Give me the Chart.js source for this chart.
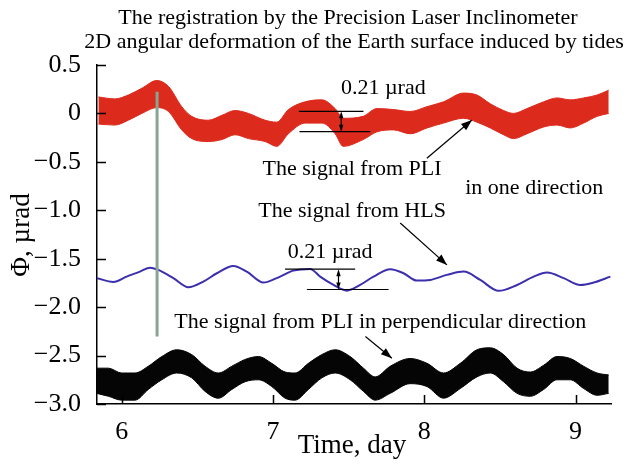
<!DOCTYPE html>
<html>
<head>
<meta charset="utf-8">
<title>PLI tidal deformation</title>
<script src="https://cdn.jsdelivr.net/npm/chart.js@4.4.1/dist/chart.umd.min.js"></script>
<style>
  html, body { margin: 0; padding: 0; background: #fff; }
  canvas { display: block; }
</style>
</head>
<body>
<canvas id="tideChart" width="631" height="466"></canvas>
<script>
// PLI, one direction: upper and lower edge of the noisy band (µrad)
const redTime = [5.846, 5.956, 6.044, 6.133, 6.232, 6.309, 6.397, 6.463, 6.573, 6.662,
                 6.750, 6.838, 6.948, 7.025, 7.102, 7.213, 7.323, 7.411, 7.464, 7.596,
                 7.687, 7.797, 7.907, 8.018, 8.127, 8.260, 8.348, 8.436, 8.524, 8.590,
                 8.679, 8.789, 8.877, 8.965, 9.053, 9.142, 9.219];
const redUpper = [0.17, 0.15, 0.19, 0.26, 0.34, 0.28, 0.07, -0.03, -0.07, -0.02,
                  0.03, 0.00, -0.07, -0.09, 0.04, 0.12, 0.14, 0.05, -0.05, -0.03,
                  0.05, 0.04, 0.02, 0.07, 0.12, 0.21, 0.19, 0.10, 0.03, 0.00,
                  0.05, 0.12, 0.16, 0.14, 0.16, 0.19, 0.24];
const redLower = [-0.11, -0.12, -0.07, 0.00, 0.06, 0.02, -0.17, -0.26, -0.29, -0.27,
                  -0.22, -0.26, -0.29, -0.34, -0.21, -0.10, -0.10, -0.21, -0.34, -0.27,
                  -0.19, -0.17, -0.21, -0.15, -0.10, -0.05, -0.09, -0.15, -0.22, -0.26,
                  -0.21, -0.14, -0.12, -0.15, -0.10, -0.03, 0.00];

// HLS signal
const hlsTime = [5.835, 5.945, 6.033, 6.121, 6.188, 6.242, 6.342, 6.441, 6.540, 6.629,
                 6.738, 6.827, 6.937, 7.025, 7.135, 7.246, 7.312, 7.400, 7.488, 7.576,
                 7.664, 7.775, 7.863, 7.951, 8.039, 8.150, 8.260, 8.370, 8.491, 8.613,
                 8.723, 8.811, 8.921, 9.031, 9.119, 9.230];
const hlsValue = [-1.70, -1.74, -1.685, -1.633, -1.592, -1.616, -1.70, -1.794, -1.736, -1.65,
                  -1.574, -1.633, -1.746, -1.70, -1.623, -1.605, -1.685, -1.771, -1.83, -1.771,
                  -1.685, -1.609, -1.65, -1.726, -1.719, -1.667, -1.633, -1.719, -1.832, -1.771,
                  -1.685, -1.643, -1.70, -1.771, -1.746, -1.685];

// PLI, perpendicular direction: band edges
const blackTime = [5.835, 5.912, 6.000, 6.088, 6.176, 6.265, 6.364, 6.463, 6.551, 6.639,
                   6.728, 6.816, 6.904, 6.992, 7.080, 7.146, 7.234, 7.323, 7.411, 7.510,
                   7.598, 7.676, 7.775, 7.907, 8.018, 8.127, 8.238, 8.348, 8.436, 8.524,
                   8.613, 8.701, 8.789, 8.877, 8.965, 9.053, 9.142, 9.219];
const blackUpper = [-2.63, -2.63, -2.68, -2.68, -2.61, -2.51, -2.44, -2.49, -2.61, -2.68,
                    -2.61, -2.54, -2.51, -2.58, -2.67, -2.68, -2.58, -2.49, -2.44, -2.51,
                    -2.63, -2.72, -2.61, -2.53, -2.58, -2.68, -2.58, -2.44, -2.42, -2.49,
                    -2.63, -2.67, -2.60, -2.51, -2.53, -2.61, -2.68, -2.70];
const blackLower = [-2.89, -2.92, -2.96, -2.96, -2.85, -2.75, -2.68, -2.73, -2.87, -2.94,
                    -2.85, -2.77, -2.75, -2.82, -2.94, -2.96, -2.85, -2.73, -2.68, -2.75,
                    -2.87, -2.96, -2.89, -2.79, -2.82, -2.94, -2.84, -2.72, -2.68, -2.77,
                    -2.89, -2.92, -2.85, -2.75, -2.75, -2.84, -2.91, -2.89];

// vertical marker line
const markerTime = [6.234, 6.234];
const markerValue = [0.225, -2.304];

const xTicks = [6, 7, 8, 9];
const yTicks = [0.5, 0, -0.5, -1.0, -1.5, -2.0, -2.5, -3.0];
const tidalSpan = 0.21;

const serif = '"Liberation Serif", "DejaVu Serif", serif';

function pts(xs, ys) {
    return xs.map((t, i) => ({ x: t, y: ys[i] }));
}

function fmtTick(v) {
    if (v === 0) return '0';
    return (v < 0 ? '\u2212' : '') + Math.abs(v).toFixed(1);
}

// captions, arrows and span brackets, all in data units
const captions = [
    { text: '0.21 \u00b5rad', x: 7.729, y: 0.263 },
    { text: 'The signal from PLI', x: 7.523, y: -0.58 },
    { text: 'in one direction', x: 8.727, y: -0.77 },
    { text: 'The signal from HLS', x: 7.523, y: -1.007 },
    { text: '0.21 \u00b5rad', x: 7.378, y: -1.43 },
    { text: 'The signal from PLI in perpendicular direction', x: 7.709, y: -2.16 }
];
const arrows = [
    { x0: 8.017, y0: -0.463, x1: 8.315, y1: -0.068 },
    { x0: 7.841, y0: -1.131, x1: 8.150, y1: -1.564 },
    { x0: 7.611, y0: -2.304, x1: 7.786, y1: -2.527 }
];
const spans = [
    { top: 0.022, topFrom: 7.171, topTo: 7.598, botFrom: 7.175, botTo: 7.643, at: 7.451 },
    { top: -1.608, topFrom: 7.080, topTo: 7.543, botFrom: 7.224, botTo: 7.764, at: 7.433 }
];

function arrowHead(ctx, x0, y0, x1, y1, len, half) {
    const a = Math.atan2(y1 - y0, x1 - x0);
    ctx.beginPath();
    ctx.moveTo(x1, y1);
    ctx.lineTo(x1 - len * Math.cos(a) + half * Math.sin(a), y1 - len * Math.sin(a) - half * Math.cos(a));
    ctx.lineTo(x1 - len * Math.cos(a) - half * Math.sin(a), y1 - len * Math.sin(a) + half * Math.cos(a));
    ctx.closePath();
    ctx.fill();
}

const overlay = {
    id: 'overlay',
    afterDraw(chart) {
        const { ctx, chartArea } = chart;
        const x = chart.scales.x, y = chart.scales.y;
        ctx.save();
        ctx.strokeStyle = '#000';
        ctx.fillStyle = '#000';

        // inward tick marks
        ctx.lineWidth = 1.5;
        ctx.beginPath();
        xTicks.forEach(v => {
            const px = Math.round(x.getPixelForValue(v)) + 0.5;
            ctx.moveTo(px, chartArea.bottom);
            ctx.lineTo(px, chartArea.bottom - 9);
        });
        yTicks.forEach(v => {
            const py = Math.round(y.getPixelForValue(v)) + 0.5;
            ctx.moveTo(chartArea.left, py);
            ctx.lineTo(chartArea.left + 9, py);
        });
        ctx.stroke();

        // span brackets
        ctx.lineWidth = 1.2;
        spans.forEach(s => {
            const yt = y.getPixelForValue(s.top);
            const yb = y.getPixelForValue(s.top - tidalSpan);
            const xa = x.getPixelForValue(s.at);
            ctx.beginPath();
            ctx.moveTo(x.getPixelForValue(s.topFrom), yt);
            ctx.lineTo(x.getPixelForValue(s.topTo), yt);
            ctx.moveTo(x.getPixelForValue(s.botFrom), yb);
            ctx.lineTo(x.getPixelForValue(s.botTo), yb);
            ctx.moveTo(xa, yt + 4);
            ctx.lineTo(xa, yb - 4);
            ctx.stroke();
            arrowHead(ctx, xa, (yt + yb) / 2, xa, yt, 7, 2.2);
            arrowHead(ctx, xa, (yt + yb) / 2, xa, yb, 7, 2.2);
        });

        // pointer arrows
        ctx.lineWidth = 1.2;
        arrows.forEach(a => {
            const x0 = x.getPixelForValue(a.x0), y0 = y.getPixelForValue(a.y0);
            const x1 = x.getPixelForValue(a.x1), y1 = y.getPixelForValue(a.y1);
            ctx.beginPath();
            ctx.moveTo(x0, y0);
            ctx.lineTo(x1, y1);
            ctx.stroke();
            arrowHead(ctx, x0, y0, x1, y1, 11, 4);
        });

        // captions
        ctx.font = '22px ' + serif;
        ctx.textAlign = 'center';
        ctx.textBaseline = 'middle';
        captions.forEach(c => {
            ctx.fillText(c.text, x.getPixelForValue(c.x), y.getPixelForValue(c.y));
        });

        // title
        ctx.font = '22px ' + serif;
        ctx.fillText('The registration by the Precision Laser Inclinometer', 348, 18);
        ctx.fillText('2D angular deformation of the Earth surface induced by tides', 354, 42);

        // axis titles
        ctx.font = '27px ' + serif;
        ctx.fillText('Time, day', 352, 446);
        ctx.translate(22, 235);
        ctx.rotate(-Math.PI / 2);
        ctx.fillText('\u03a6, \u00b5rad', 0, 0);
        ctx.restore();
    }
};

const bandLine = { pointRadius: 0, borderWidth: 1, cubicInterpolationMode: 'monotone' };

new Chart(document.getElementById('tideChart'), {
    type: 'line',
    data: {
        datasets: [
            { data: pts(markerTime, markerValue), borderColor: '#86a592', borderWidth: 3, pointRadius: 0, fill: false },
            { data: pts(redTime, redUpper), borderColor: '#dc2a1c', backgroundColor: '#dc2a1c', fill: '+1', ...bandLine },
            { data: pts(redTime, redLower), borderColor: '#dc2a1c', fill: false, ...bandLine },
            { data: pts(hlsTime, hlsValue), borderColor: '#3b2fae', borderWidth: 2, pointRadius: 0, cubicInterpolationMode: 'monotone', fill: false },
            { data: pts(blackTime, blackUpper), borderColor: '#050505', backgroundColor: '#050505', fill: '+1', ...bandLine },
            { data: pts(blackTime, blackLower), borderColor: '#050505', fill: false, ...bandLine }
        ]
    },
    options: {
        responsive: false,
        animation: false,
        layout: { padding: { top: 65, right: 20, left: 0, bottom: 0 } },
        plugins: {
            legend: { display: false },
            tooltip: { enabled: false }
        },
        scales: {
            x: {
                type: 'linear',
                min: 5.837,
                max: 9.234,
                grid: { display: false },
                border: { display: true, color: '#000', width: 1.5 },
                afterBuildTicks: s => { s.ticks = xTicks.map(v => ({ value: v })); },
                afterFit: s => { s.height = 62; },
                ticks: {
                    color: '#000',
                    padding: 5,
                    maxRotation: 0,
                    font: { family: serif, size: 26 },
                    callback: v => String(v)
                }
            },
            y: {
                min: -3.0,
                max: 0.5,
                grid: { display: false },
                border: { display: true, color: '#000', width: 1.5 },
                afterBuildTicks: s => { s.ticks = yTicks.map(v => ({ value: v })); },
                afterFit: s => { s.width = 97; },
                ticks: {
                    color: '#000',
                    padding: 8,
                    font: { family: serif, size: 26 },
                    callback: v => fmtTick(v)
                }
            }
        }
    },
    plugins: [overlay]
});
</script>
</body>
</html>
